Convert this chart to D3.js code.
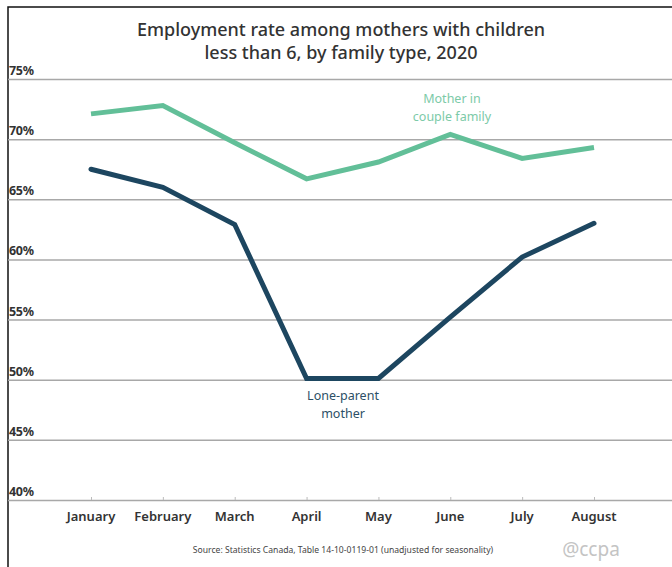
<!DOCTYPE html>
<html>
<head>
<meta charset="utf-8">
<script src="https://cdn.jsdelivr.net/npm/d3@7"></script>
<style>
  body { margin: 0; background: #fff; }
  svg { display: block; font-family: "Noto Sans", "DejaVu Sans", sans-serif; }
</style>
</head>
<body>
<svg id="chart" width="672" height="567"></svg>
<script>
// data
var months = ["January", "February", "March", "April", "May", "June", "July", "August"];
var coupleFamily = [72.1, 72.8, 69.7, 66.7, 68.1, 70.4, 68.4, 69.3];
var loneParent = [67.5, 66.0, 62.9, 50.1, 50.1, 55.2, 60.2, 63.0];
var yTicks = [40, 45, 50, 55, 60, 65, 70, 75];

var svg = d3.select("#chart");

var x = d3.scalePoint().domain(months).range([91, 594]);
var y = d3.scaleLinear().domain([40, 75]).range([500, 79]);

// frame on top and left
svg.append("path")
  .attr("d", "M8,567V7H672")
  .style("fill", "none")
  .style("stroke", "#111")
  .style("stroke-width", 1.5);

// title
svg.append("text")
  .attr("x", 341).attr("y", 36)
  .attr("text-anchor", "middle")
  .style("font-size", "18px")
  .style("font-weight", 500)
  .style("fill", "#333")
  .text("Employment rate among mothers with children");
svg.append("text")
  .attr("x", 341).attr("y", 59)
  .attr("text-anchor", "middle")
  .style("font-size", "18px")
  .style("font-weight", 500)
  .style("fill", "#333")
  .text("less than 6, by family type, 2020");

// gridlines
var grid = svg.append("g")
  .attr("transform", "translate(8,0)")
  .call(d3.axisLeft(y).tickValues(yTicks).tickSize(-664).tickFormat(""));
grid.select(".domain").remove();
grid.selectAll(".tick line")
  .style("stroke", "#a8a8a8")
  .style("stroke-width", 1.5);

// y labels above each gridline
svg.selectAll(".ylab")
  .data(yTicks)
  .enter().append("text")
  .attr("class", "ylab")
  .attr("x", 9)
  .attr("y", function (d) { return y(d) - 4; })
  .style("font-size", "12.5px")
  .style("font-weight", "bold")
  .style("letter-spacing", "-0.3px")
  .style("fill", "#333")
  .text(function (d) { return d + "%"; });

// x axis
var xAxis = svg.append("g")
  .attr("transform", "translate(0," + y(40) + ")")
  .call(d3.axisTop(x).tickSize(3).tickFormat(""));
xAxis.select(".domain").remove();
xAxis.selectAll(".tick line").style("stroke", "#bbb");

svg.selectAll(".xlab")
  .data(months)
  .enter().append("text")
  .attr("class", "xlab")
  .attr("x", function (d) { return x(d); })
  .attr("y", 521)
  .attr("text-anchor", "middle")
  .style("font-size", "13px")
  .style("font-weight", 600)
  .style("fill", "#333")
  .text(function (d) { return d; });

// lines
var line = d3.line()
  .x(function (d, i) { return x(months[i]); })
  .y(function (d) { return y(d); });

svg.append("path")
  .datum(coupleFamily)
  .attr("d", line)
  .style("fill", "none")
  .style("stroke", "#62bf98")
  .style("stroke-width", 5)
  .style("stroke-linejoin", "miter");

svg.append("path")
  .datum(loneParent)
  .attr("d", line)
  .style("fill", "none")
  .style("stroke", "#1d4660")
  .style("stroke-width", 5)
  .style("stroke-linecap", "round")
  .style("stroke-linejoin", "miter");

// annotations, one text per line
function label(lines, cx, y0, color) {
  lines.forEach(function (t, i) {
    svg.append("text")
      .attr("x", cx)
      .attr("y", y0 + i * 17.5)
      .attr("text-anchor", "middle")
      .style("font-size", "12.5px")
      .style("fill", color)
      .text(t);
  });
}
label(["Mother in", "couple family"], 452, 103, "#7ccaa8");
label(["Lone-parent", "mother"], 343, 400, "#2c4f66");

// footer
svg.append("text")
  .attr("x", 343).attr("y", 553)
  .attr("text-anchor", "middle")
  .style("font-size", "8.6px")
  .style("fill", "#444")
  .text("Source: Statistics Canada, Table 14-10-0119-01 (unadjusted for seasonality)");

svg.append("text")
  .attr("x", 591).attr("y", 556)
  .attr("text-anchor", "middle")
  .style("font-size", "19px")
  .style("fill", "#c4c4c4")
  .text("@ccpa");
</script>
</body>
</html>
